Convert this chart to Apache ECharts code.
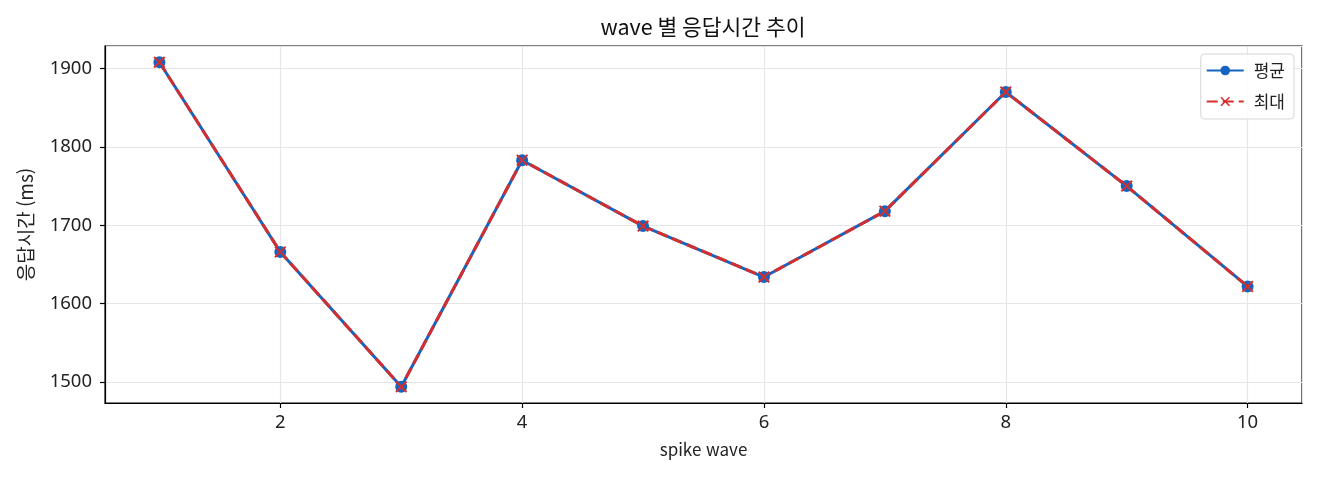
<!DOCTYPE html>
<html lang="ko">
  <head>
    <meta charset="UTF-8" />
    <title>wave 별 응답시간 추이</title>
    <script src="https://cdn.jsdelivr.net/npm/echarts@6/dist/echarts.min.js"></script>
    <style>
      html, body { margin: 0; padding: 0; background: #fff; }
    </style>
  </head>
  <body>
    <div id="main" style="width: 1320px; height: 480px"></div>

    <script>
      const myEchart = echarts.init(document.getElementById("main"));

      // 데이터
      const waves = [1, 2, 3, 4, 5, 6, 7, 8, 9, 10];
      const avgValues = [1908, 1666, 1494, 1783, 1699, 1634, 1718, 1870, 1750, 1622];
      const maxValues = [1908, 1666, 1494, 1783, 1699, 1634, 1718, 1870, 1750, 1622];

      const font = "'Noto Sans CJK KR', 'Noto Sans', sans-serif";
      const numFont = "'Noto Sans', 'Noto Sans CJK KR', sans-serif";
      const xMark = "path://M0,1.4 L1.4,0 L6,4.6 L10.6,0 L12,1.4 L7.4,6 L12,10.6 L10.6,12 L6,7.4 L1.4,12 L0,10.6 L4.6,6 Z";

      // 5% 여백 (matplotlib 기본값처럼)
      const xPad = (Math.max(...waves) - Math.min(...waves)) * 0.05;
      const allY = avgValues.concat(maxValues);
      const yPad = (Math.max(...allY) - Math.min(...allY)) * 0.05;

      const axisCommon = {
        axisLine: { show: true, lineStyle: { color: "#000", width: 1.2 } },
        axisTick: { show: true, length: 5, lineStyle: { color: "#000", width: 1.2 } },
        splitLine: { show: true, lineStyle: { color: "#e6e6e6", width: 1.2 } },
      };

      let options = {
        animation: false,
        title: {
          text: "wave 별 응답시간 추이",
          left: 703,
          textAlign: "center",
          top: 16,
          padding: 0,
          textStyle: { fontFamily: font, fontSize: 21.5, fontWeight: "normal", color: "#111" },
        },
        grid: { left: 105, right: 18, top: 46, bottom: 77, containLabel: false, show: true, borderColor: "#000", borderWidth: 1.2 },
        legend: {
          right: 26,
          top: 54,
          orient: "vertical",
          itemWidth: 37,
          itemHeight: 12,
          itemGap: 14,
          padding: [8, 9, 9, 5],
          borderColor: "#d6d6d6",
          borderWidth: 1,
          borderRadius: 4,
          backgroundColor: "rgba(255,255,255,0.85)",
          textStyle: { fontFamily: font, fontSize: 17, color: "#222", padding: [0, 0, 0, 5] },
          data: ["평균", "최대"],
        },
        xAxis: {
          ...axisCommon,
          type: "value",
          min: Math.min(...waves) - xPad,
          max: Math.max(...waves) + xPad,
          name: "spike wave",
          nameLocation: "middle",
          nameGap: 38,
          nameTextStyle: { fontFamily: font, fontSize: 17, color: "#222" },
          axisLabel: {
            fontFamily: numFont, fontSize: 18.5, color: "#222", margin: 10,
            showMinLabel: false, showMaxLabel: false,
            formatter: (v) => (Number.isInteger(v) ? String(v) : ""),
          },
        },
        yAxis: {
          ...axisCommon,
          type: "value",
          min: Math.min(...allY) - yPad,
          max: Math.max(...allY) + yPad,
          name: "응답시간 (ms)",
          nameLocation: "middle",
          nameGap: 70,
          nameTextStyle: { fontFamily: font, fontSize: 19, color: "#222" },
          axisLabel: {
            fontFamily: numFont, fontSize: 18.5, color: "#222", margin: 13,
            showMinLabel: false, showMaxLabel: false,
            formatter: (v) => (v % 100 === 0 ? String(v) : ""),
          },
        },
        series: [
          {
            name: "평균",
            type: "line",
            data: waves.map((w, i) => [w, avgValues[i]]),
            symbol: "circle",
            symbolSize: 12,
            lineStyle: { color: "#1565c0", width: 3 },
            itemStyle: { color: "#1565c0" },
          },
          {
            name: "최대",
            type: "line",
            data: waves.map((w, i) => [w, maxValues[i]]),
            symbol: xMark,
            symbolSize: 12,
            lineStyle: { color: "#d32f2f", width: 3, type: [11, 5] },
            itemStyle: { color: "#d32f2f" },
          },
        ],
      };

      myEchart.setOption(options);
    </script>
  </body>
</html>
